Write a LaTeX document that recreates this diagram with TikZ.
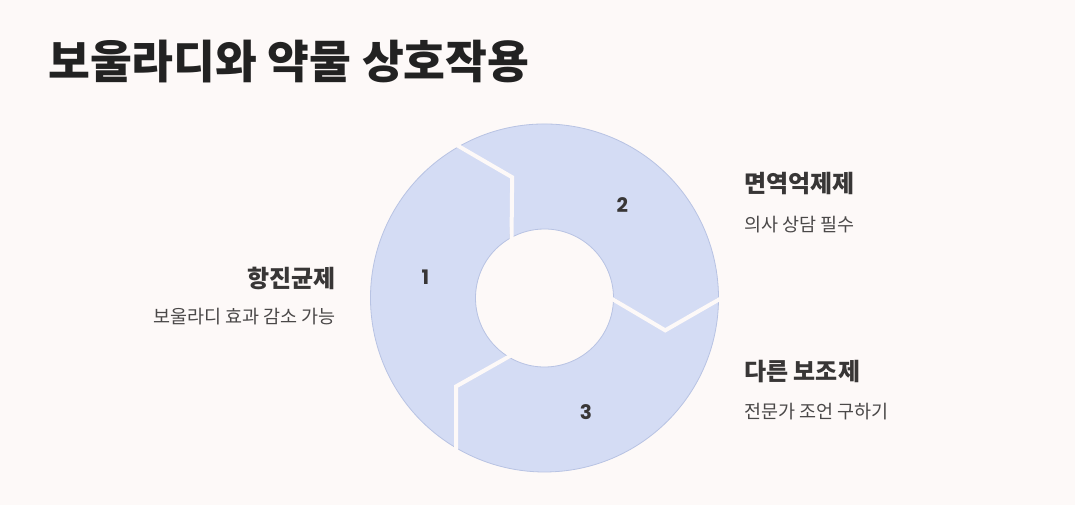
\documentclass[tikz,border=0pt]{standalone}
\usepackage{fontspec}
\usepackage{xcolor}
\usetikzlibrary{positioning}
\newfontfamily\krfont{Noto Sans CJK KR}
\newfontfamily\numfont{Poppins}
\definecolor{bgcol}{HTML}{FDF9F8}
\definecolor{segfill}{HTML}{D4DCF4}
\definecolor{segline}{HTML}{B8C3E3}
\definecolor{titlecol}{HTML}{222222}
\definecolor{headcol}{HTML}{383636}
\definecolor{subcol}{HTML}{4A4848}

\begin{document}
\begin{tikzpicture}[x=1pt,y=1pt,
                        seg/.style={fill=segfill,draw=segline,line width=0.8pt},
                        gap/.style={draw=bgcol,line width=4pt,line join=miter},
                        num/.style={font=\numfont\bfseries\fontsize{20}{24}\selectfont,text=headcol,inner sep=0pt},
                        head/.style={font=\krfont\bfseries\fontsize{24}{28}\selectfont,text=headcol,inner sep=0pt},
                        sub/.style={font=\krfont\fontsize{18.5}{22}\selectfont,text=subcol,inner sep=0pt}]

      \fill[bgcol] (0,0) rectangle (1075,505);

      \node[font=\krfont\bfseries\fontsize{45.5}{52}\selectfont,text=titlecol,anchor=base west,inner sep=0pt] (title) at (48,426) {보울라디와 약물 상호작용};

      \begin{scope}[shift={(544.5,207)}]
        \filldraw[seg] (240:174) arc[start angle=240,end angle=120,radius=174] -- (105:125) -- (120:69)
          arc[start angle=120,end angle=240,radius=69] -- (225:125) -- cycle;
        \filldraw[seg] (120:174) arc[start angle=120,end angle=0,radius=174] -- (-15:125) -- (0:69)
          arc[start angle=0,end angle=120,radius=69] -- (105:125) -- cycle;
        \filldraw[seg] (0:174) arc[start angle=0,end angle=-120,radius=174] -- (-135:125) -- (-120:69)
          arc[start angle=-120,end angle=0,radius=69] -- (-15:125) -- cycle;
        \draw[gap] (120:177) -- (105:125) -- (120:66);
        \draw[gap] (0:177) -- (-15:125) -- (0:66);
        \draw[gap] (240:177) -- (225:125) -- (240:66);
        \node[num] (n1) at (170:121) {1};
        \node[num] (n2) at (50:121) {2};
        \node[num] (n3) at (-70:121) {3};
      \end{scope}

      \node[head,anchor=base east] (h1) at (336,217) {항진균제};
      \node[sub,anchor=base east] (s1) at (336,181) {보울라디 효과 감소 가능};
      \node[head,anchor=base west] (h2) at (744,312) {면역억제제};
      \node[sub,anchor=base west] (s2) at (744,273) {의사 상담 필수};
      \node[head,anchor=base west] (h3) at (744,124) {다른 보조제};
      \node[sub,anchor=base west] (s3) at (744,86) {전문가 조언 구하기};
    \end{tikzpicture}
\end{document}
